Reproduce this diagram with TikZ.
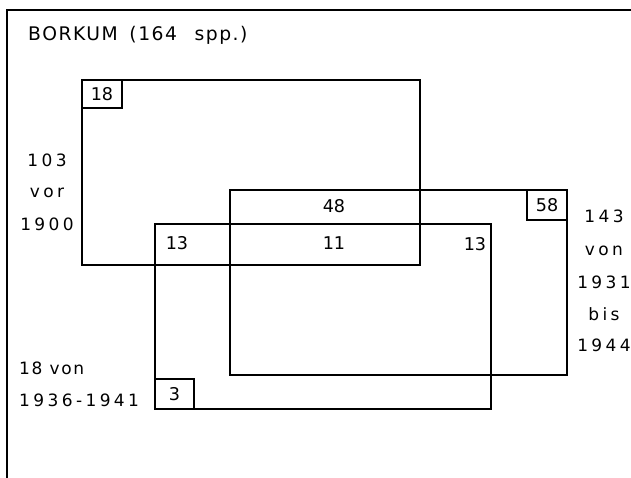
\documentclass[tikz,border=0pt]{standalone}
\usepackage{fontspec}
\setmainfont{DejaVu Sans}
% widely tracked figures for the period labels
\newfontfamily\spacedfont[LetterSpace=20]{DejaVu Sans}
\newfontfamily\midfont[LetterSpace=10]{DejaVu Sans}
\newfontfamily\headfont[LetterSpace=8]{DejaVu Sans}
\usetikzlibrary{positioning}

\begin{document}
\begin{tikzpicture}[
            x=0.03cm, y=-0.03cm,
            % one rectangle per collecting period
            period/.style ={draw=black, line width=1.1pt, inner sep=0pt, outer sep=0pt,
                    minimum height=5.55cm, anchor=north west},
            % boxed counts of species found only in one period
            count/.style  ={draw=black, line width=1.1pt, inner sep=0pt, outer sep=0pt,
                    minimum width=1.2cm, minimum height=0.9cm,
                    font=\fontsize{15}{17}\selectfont},
            num/.style    ={font=\fontsize{15}{17}\selectfont, inner sep=0pt},
            side/.style   ={font=\spacedfont\fontsize{14.5}{17}\selectfont, inner sep=0pt, anchor=base},
            sidel/.style  ={side, anchor=base west},
            frame/.style  ={draw=black, line width=1.1pt}
        ]
        \useasboundingbox (0,0) rectangle (631,478);

        % cropped frame: only top and left edges remain
        \draw[frame] (7,478) -- (7,10) -- (631,10);

        \node[font=\headfont\fontsize{16}{19}\selectfont, anchor=base west, inner sep=0pt]
              (title) at (28,41) {BORKUM\hspace{10pt}(164\hspace{15pt}spp.)};

        \node[period, minimum width=10.14cm] (vor)   at (82,80)  {};
        \node[period, minimum width=10.11cm] (spaet) at (230,190) {};
        \node[period, minimum width=10.08cm] (mitte) at (155,224) {};

        \node[count, anchor=north west, minimum height=0.84cm] (nurvor)   at (vor.north west)   {18};
        \node[count, anchor=north east]                        (nurspaet) at (spaet.north east) {58};
        \node[count, anchor=south west, minimum width=1.17cm]  (nurmitte) at (mitte.south west) {3};

        % overlaps
        \node[num] (vorspaet)   at (334,206) {48};
        \node[num] (vormitte)   at (177,243) {13};
        \node[num] (alle)       at (334,243) {11};
        \node[num] (spaetmitte) at (475,244) {13};

        % period labels
        \node[side] (vorA) at (47,167) {103};
        \node[side] (vorB) at (47,198) {vor};
        \node[side] (vorC) at (47,230) {1900};

        \node[side] (spaetA) at (604,223) {143};
        \node[side] (spaetB) at (604,255) {von};
        \node[side] (spaetC) at (604,288) {1931};
        \node[side] (spaetD) at (604,320) {bis};
        \node[side] (spaetE) at (604,351) {1944};

        \node[sidel, font=\midfont\fontsize{14.5}{17}\selectfont] (mitteA) at (19,374) {18 von};
        \node[sidel] (mitteB) at (19,406) {1936-1941};

    \end{tikzpicture}
\end{document}
